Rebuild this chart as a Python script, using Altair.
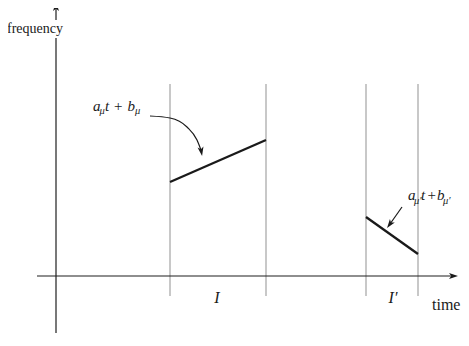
import altair as alt
import pandas as pd

# coordinate frame: time axis (t) to the right, frequency (f) upward, origin at the axes' crossing
X_DOMAIN = [-48, 405]
Y_DOMAIN = [-57, 268]

# interval boundaries (time) for I and I'
bound_t = [114, 210, 310, 362]
bound_top = 192
bound_bottom = -20

# linear pieces a t + b on each interval
seg_t0 = [114, 310]
seg_f0 = [94, 59]
seg_t1 = [210, 362]
seg_f1 = [136, 22]

# axes
axis_x0 = [-19, 0, 0]
axis_y0 = [0, -57, 256]
axis_x1 = [398, 0, 0]
axis_y1 = [0, 238, 268]

# curved annotation arrow
curve_t = [94, 114, 131, 141, 145]
curve_f = [160, 158, 149, 136, 126]

# straight annotation arrow
arr2_t = [346]
arr2_f = [69]
arr2_t2 = [334]
arr2_f2 = [52]

# arrowheads (center positions, angles)
head_t = [0, 397, 145.2, 334]
head_f = [269, 0, 125, 52]
head_angle = [0, 90, 170, 216]

xs = alt.Scale(domain=X_DOMAIN, nice=False, zero=False)
ys = alt.Scale(domain=Y_DOMAIN, nice=False, zero=False)

def X(field):
    return alt.X(field, type="quantitative", scale=xs, axis=None)

def Y(field):
    return alt.Y(field, type="quantitative", scale=ys, axis=None)

bounds = pd.DataFrame({"t": bound_t, "f": [bound_bottom] * 4, "f2": [bound_top] * 4})
segs = pd.DataFrame({"t": seg_t0, "f": seg_f0, "t2": seg_t1, "f2": seg_f1})
axes = pd.DataFrame({"t": axis_x0, "f": axis_y0, "t2": axis_x1, "f2": axis_y1})
curve = pd.DataFrame({"t": curve_t, "f": curve_f})
arr2 = pd.DataFrame({"t": arr2_t, "f": arr2_f, "t2": arr2_t2, "f2": arr2_f2})
heads = pd.DataFrame({"t": head_t, "f": head_f, "a": head_angle})

FONT = "Liberation Serif, Times New Roman, serif"

main_txt = pd.DataFrame({
    "t": [37, 49, 71.5, 352, 365, 381],
    "f": [165, 165, 165, 76, 76, 76],
    "s": ["a", "t", "b", "a", "t", "b"],
})
sub_txt = pd.DataFrame({
    "t": [43.5, 79, 358, 387],
    "f": [162, 162, 72.5, 72.5],
    "s": ["μ", "μ", "μ′", "μ′"],
})
plus_txt = pd.DataFrame({"t": [58, 371.5], "f": [165, 76], "s": ["+", "+"]})
int_txt = pd.DataFrame({"t": [161, 337], "f": [-22, -22], "s": ["I", "I′"]})
time_txt = pd.DataFrame({"t": [376], "f": [-34], "s": ["time"]})
freq_txt = pd.DataFrame({"t": [7], "f": [243], "s": ["frequency"]})

gray = alt.Chart(bounds).mark_rule(color="#ababab", strokeWidth=1.3).encode(
    x=X("t"), y=Y("f"), y2="f2")
axis_lines = alt.Chart(axes).mark_rule(color="#1e1e1e", strokeWidth=1.2).encode(
    x=X("t"), y=Y("f"), x2="t2", y2="f2")
seg_lines = alt.Chart(segs).mark_rule(color="#1a1a1a", strokeWidth=2.3).encode(
    x=X("t"), y=Y("f"), x2="t2", y2="f2")
curve_line = alt.Chart(curve).mark_line(color="#1a1a1a", strokeWidth=1.2, interpolate="monotone").encode(
    x=X("t"), y=Y("f"))
arr2_line = alt.Chart(arr2).mark_rule(color="#1a1a1a", strokeWidth=1.2).encode(
    x=X("t"), y=Y("f"), x2="t2", y2="f2")
head_marks = alt.Chart(heads).mark_point(
    shape="M0,-1 L0.6,0.8 L0,0.35 L-0.6,0.8 Z", filled=True, color="#1a1a1a",
    size=100, opacity=1, strokeWidth=0).encode(
    x=X("t"), y=Y("f"), angle=alt.Angle("a:Q", scale=None))

main_l = alt.Chart(main_txt).mark_text(font=FONT, fontStyle="italic", fontSize=15, align="left",
                                      baseline="alphabetic", color="#1a1a1a").encode(
    x=X("t"), y=Y("f"), text="s:N")
sub_l = alt.Chart(sub_txt).mark_text(font=FONT, fontStyle="italic", fontSize=10.5, align="left",
                                    baseline="alphabetic", color="#1a1a1a").encode(
    x=X("t"), y=Y("f"), text="s:N")
plus_l = alt.Chart(plus_txt).mark_text(font=FONT, fontSize=15, align="left",
                                      baseline="alphabetic", color="#1a1a1a").encode(
    x=X("t"), y=Y("f"), text="s:N")
int_l = alt.Chart(int_txt).mark_text(font=FONT, fontStyle="italic", fontSize=16, align="center",
                                    baseline="middle", color="#1a1a1a").encode(
    x=X("t"), y=Y("f"), text="s:N")
time_l = alt.Chart(time_txt).mark_text(font=FONT, fontSize=16, align="left",
                                      baseline="alphabetic", color="#1a1a1a").encode(
    x=X("t"), y=Y("f"), text="s:N")
freq_l = alt.Chart(freq_txt).mark_text(font=FONT, fontSize=14, align="right",
                                      baseline="alphabetic", color="#1a1a1a").encode(
    x=X("t"), y=Y("f"), text="s:N")

chart = alt.layer(
    gray, axis_lines, seg_lines, curve_line, arr2_line, head_marks,
    main_l, sub_l, plus_l, int_l, time_l, freq_l
).properties(
    width=453, height=325,
    autosize=alt.AutoSizeParams(type="none"),
    padding=0,
).configure_view(strokeWidth=0)

chart.save("out.html", embed_options={"renderer": "svg", "actions": False})
